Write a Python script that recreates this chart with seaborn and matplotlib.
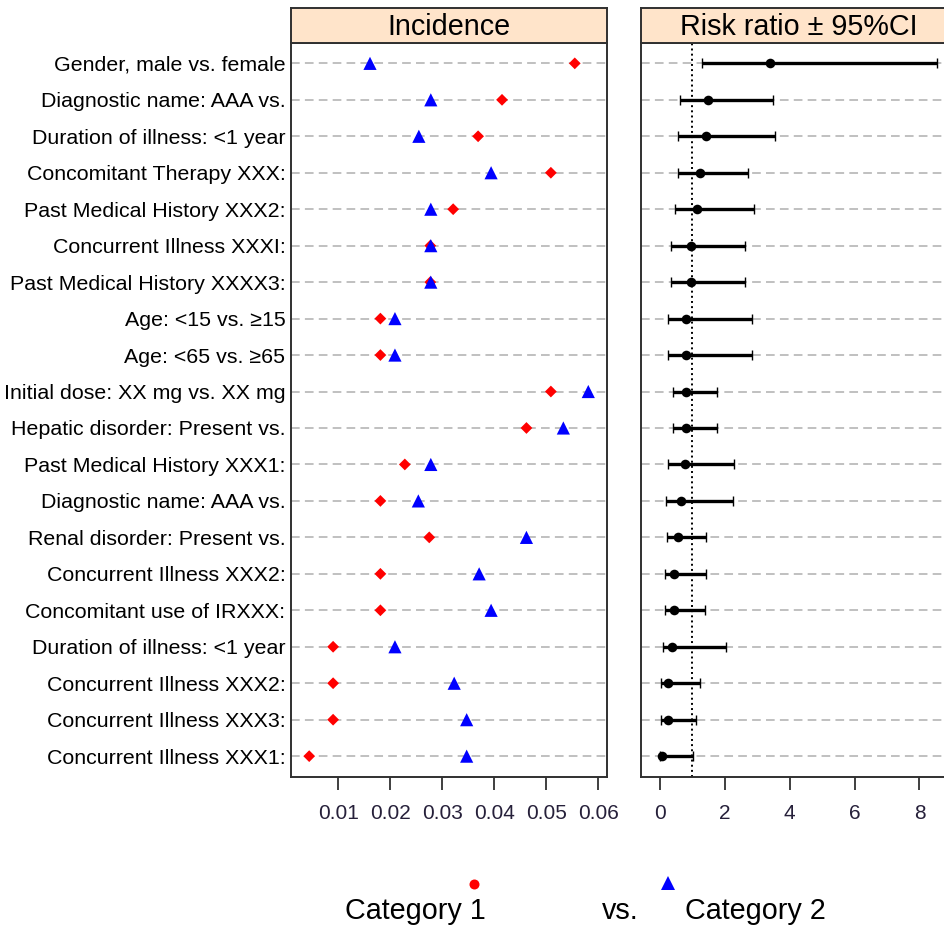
import numpy as np
import pandas as pd
import matplotlib
matplotlib.use('Agg')
import matplotlib.pyplot as plt
from matplotlib.lines import Line2D
import seaborn as sns

# row labels, top to bottom
labels = ['Gender, male vs. female', 'Diagnostic name: AAA vs.', 'Duration of illness: <1 year',
          'Concomitant Therapy XXX:', 'Past Medical History XXX2:', 'Concurrent Illness XXXI:',
          'Past Medical History XXXX3:', 'Age: <15 vs. ≥15', 'Age: <65 vs. ≥65',
          'Initial dose: XX mg vs. XX mg', 'Hepatic disorder: Present vs.', 'Past Medical History XXX1:',
          'Diagnostic name: AAA vs.', 'Renal disorder: Present vs.', 'Concurrent Illness XXX2:',
          'Concomitant use of IRXXX:', 'Duration of illness: <1 year', 'Concurrent Illness XXX2:',
          'Concurrent Illness XXX3:', 'Concurrent Illness XXX1:']

# incidence per category
cat1 = [0.0555, 0.0415, 0.0369, 0.0509, 0.0321, 0.0277, 0.0277, 0.0181, 0.0181, 0.0509,
        0.0462, 0.0228, 0.0181, 0.0275, 0.0181, 0.0181, 0.0090, 0.0090, 0.0090, 0.0044]
cat2 = [0.0161, 0.0278, 0.0255, 0.0394, 0.0278, 0.0278, 0.0278, 0.0209, 0.0209, 0.0581,
        0.0533, 0.0278, 0.0254, 0.0462, 0.0371, 0.0394, 0.0209, 0.0323, 0.0347, 0.0347]

# risk ratio and 95% CI
rr = [3.41, 1.48, 1.43, 1.25, 1.15, 0.98, 0.98, 0.82, 0.82, 0.82,
      0.82, 0.77, 0.66, 0.57, 0.45, 0.45, 0.39, 0.25, 0.25, 0.06]
rr_lo = [1.30, 0.64, 0.58, 0.58, 0.46, 0.36, 0.36, 0.25, 0.25, 0.41,
         0.41, 0.26, 0.21, 0.23, 0.15, 0.15, 0.09, 0.04, 0.04, 0.0]
rr_hi = [8.55, 3.49, 3.54, 2.72, 2.89, 2.64, 2.64, 2.85, 2.85, 1.77,
         1.77, 2.30, 2.25, 1.44, 1.44, 1.41, 2.05, 1.23, 1.13, 1.02]

group_names = ['Category 1', 'Category 2']
group_colors = {'Category 1': '#FF0000', 'Category 2': '#0000FF'}
group_markers = {'Category 1': 'D', 'Category 2': '^'}

sns.set_theme(style='white')
plt.rcParams['font.family'] = ['Liberation Sans', 'DejaVu Sans']
plt.rcParams['text.color'] = 'black'

rows = np.arange(len(labels))
df_inc = pd.DataFrame({
    'row': np.concatenate([rows, rows]),
    'value': cat1 + cat2,
    'group': [group_names[0]] * len(rows) + [group_names[1]] * len(rows),
})
df_rr = pd.DataFrame({'row': rows, 'rr': rr, 'lo': rr_lo, 'hi': rr_hi})

W, H = 945, 932
fig = plt.figure(figsize=(W / 100, H / 100), dpi=100)


def box(x0, y0, x1, y1):
    """pixel box -> figure fraction"""
    return [x0 / W, 1 - y1 / H, (x1 - x0) / W, (y1 - y0) / H]


ax1 = fig.add_axes(box(291, 43.3, 607, 777.3))
hd1 = fig.add_axes(box(291, 8.3, 607, 43.3))
ax2 = fig.add_axes(box(640.5, 43.3, 956.5, 777.3))
hd2 = fig.add_axes(box(640.5, 8.3, 956.5, 43.3))

spine_col = '#303030'
grid_kw = dict(color='#B8B8B8', linestyle=(0, (5, 3)), linewidth=1.25)

# --- incidence panel ---
sns.scatterplot(data=df_inc, x='value', y='row', hue='group', style='group',
                palette=group_colors, markers=group_markers, linewidth=0,
                size='group', sizes={'Category 1': 36, 'Category 2': 90},
                legend=False, ax=ax1, zorder=3)
ax1.set_xlim(0.0009, 0.0617)
ax1.set_xticks([0.01, 0.02, 0.03, 0.04, 0.05, 0.06])
ax1.set_xticklabels(['0.01', '0.02', '0.03', '0.04', '0.05', '0.06'])
ax1.set_yticks(rows)
ax1.set_yticklabels(labels)

# --- risk ratio panel ---
ax2.errorbar(df_rr['rr'], df_rr['row'],
             xerr=[df_rr['rr'] - df_rr['lo'], df_rr['hi'] - df_rr['rr']],
             fmt='none', ecolor='black', elinewidth=2.4, capsize=3.8, capthick=1.0, zorder=3)
sns.scatterplot(data=df_rr, x='rr', y='row', color='black', s=48, linewidth=0,
                ax=ax2, zorder=4)
ax2.axvline(1, color='black', linestyle=':', linewidth=1.4, zorder=2)
ax2.set_xlim(-0.59, 9.14)
ax2.set_xticks([0, 2, 4, 6, 8])
ax2.set_yticks(rows)
ax2.set_yticklabels([])

for ax in (ax1, ax2):
    ax.set_ylim(19.58, -0.55)
    ax.set_xlabel('')
    ax.set_ylabel('')
    ax.set_axisbelow(True)
    ax.grid(axis='y', **grid_kw)
    ax.grid(axis='x', visible=False)
    ax.tick_params(axis='x', direction='out', length=9.5, width=1.3, color=spine_col,
                   pad=10, labelsize=15, labelcolor='#26203a', bottom=True)
    ax.tick_params(axis='y', length=0, pad=4, labelsize=15.4, labelcolor='black')
    for s in ax.spines.values():
        s.set_color(spine_col)
        s.set_linewidth(1.4)

# strip headers
for hd, title in ((hd1, 'Incidence'), (hd2, 'Risk ratio ± 95%CI')):
    hd.set_facecolor('#FFE4CA')
    hd.set_xticks([])
    hd.set_yticks([])
    for s in hd.spines.values():
        s.set_color(spine_col)
        s.set_linewidth(1.4)
    hd.text(0.5, 0.47, title, transform=hd.transAxes, ha='center', va='center',
            fontsize=20.7, color='black')

# key at the bottom
fig.add_artist(Line2D([474 / W], [1 - 884 / H], marker='o', markersize=7.2, color='#FF0000',
                      linestyle='none', markeredgewidth=0, transform=fig.transFigure))
fig.add_artist(Line2D([668 / W], [1 - 883 / H], marker='^', markersize=10.5, color='#0000FF',
                      linestyle='none', markeredgewidth=0, transform=fig.transFigure))
fig.text(415 / W, 1 - 911 / H, group_names[0], ha='center', va='center', fontsize=20.7, color='black')
fig.text(620 / W, 1 - 911 / H, 'vs.', ha='center', va='center', fontsize=20.7, color='black')
fig.text(755 / W, 1 - 911 / H, group_names[1], ha='center', va='center', fontsize=20.7, color='black')

fig.savefig('out.png', dpi=100)
